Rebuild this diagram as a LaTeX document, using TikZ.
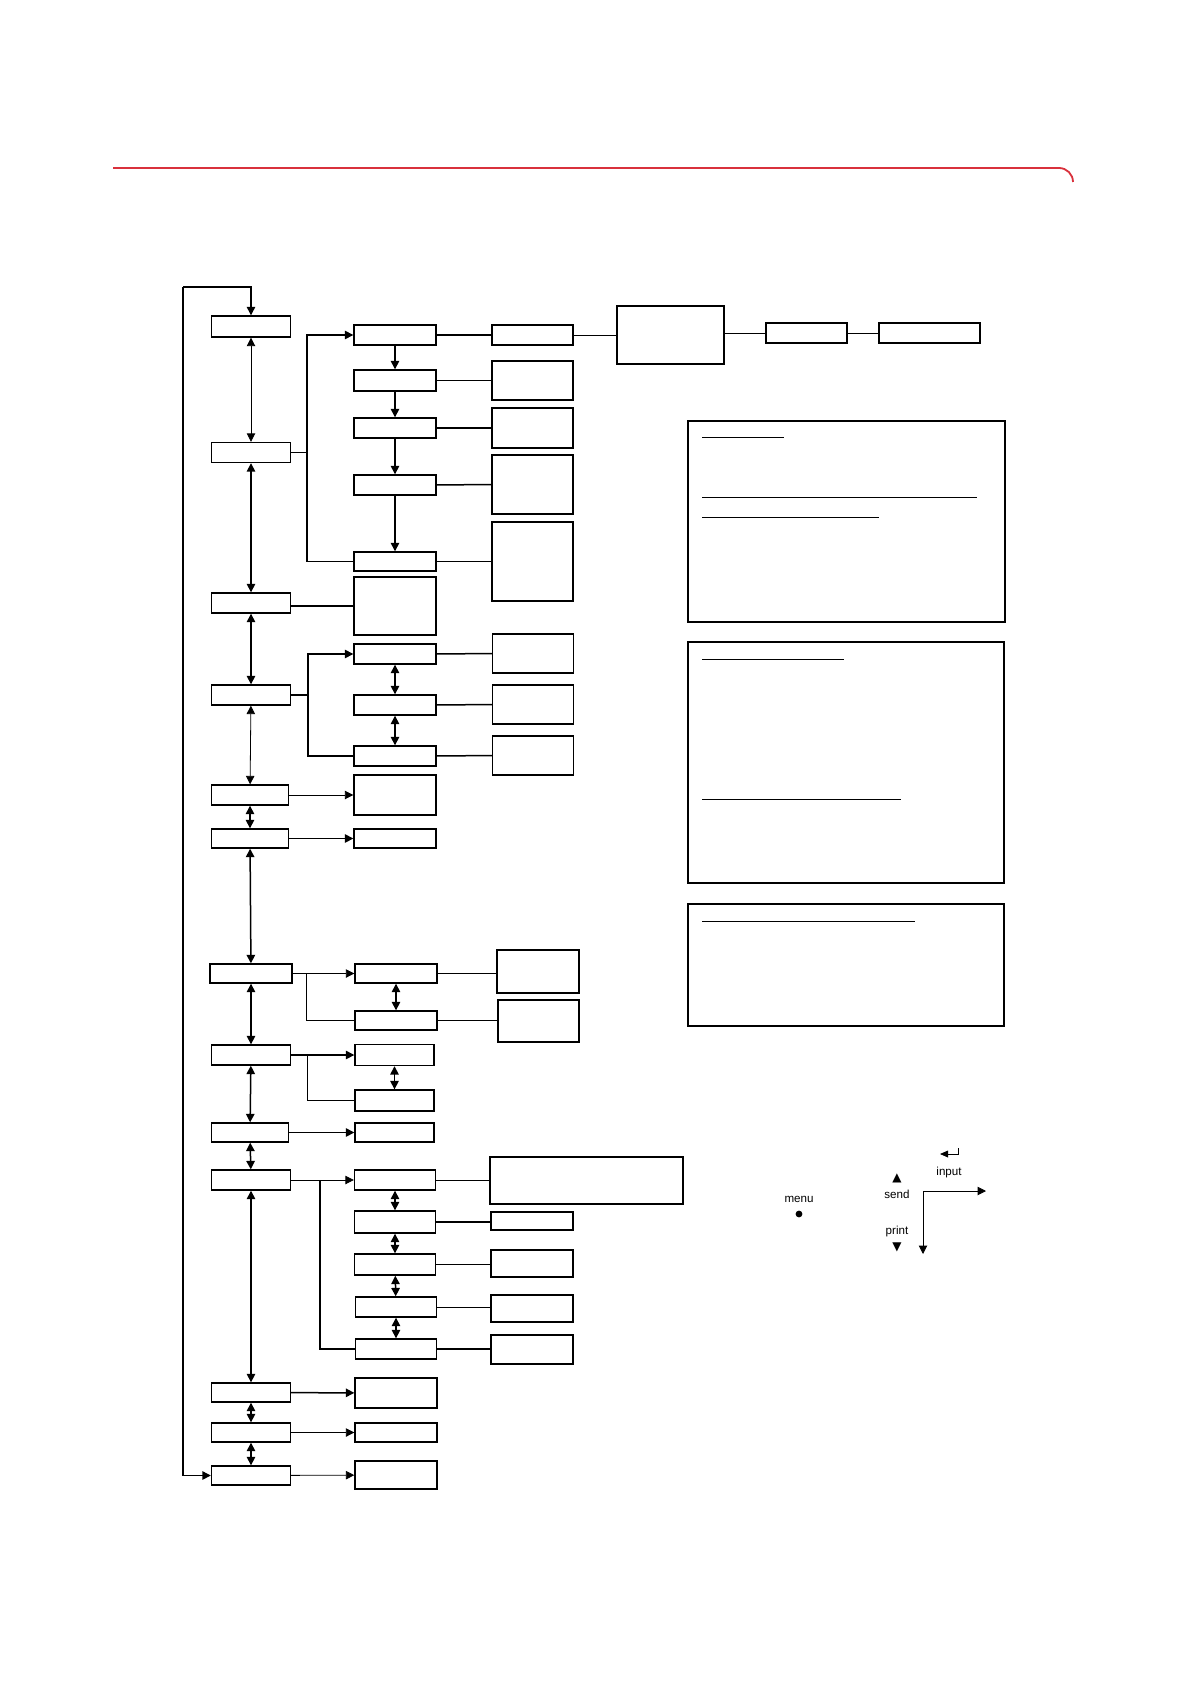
\documentclass[tikz,border=0pt]{standalone}
\usepackage{fontspec}
\setmainfont{Liberation Sans}
\newfontfamily\symfont{DejaVu Sans}
\usetikzlibrary{arrows.meta, calc}
\definecolor{rulered}{HTML}{D9313C}

\begin{document}
\begin{tikzpicture}[
    x=0.5pt, y=-0.5pt,
    every node/.style={font=\fontsize{5.8pt}{7pt}\selectfont},
    box/.style 2 args={draw, line width=.7pt, inner sep=0pt,
                       minimum width=#1*0.5pt, minimum height=#2*0.5pt},
    note/.style 2 args={draw, line width=.55pt, inner sep=0pt,
                        minimum width=#1*0.5pt, minimum height=#2*0.5pt},
    link/.style={line width=.75pt},
    hair/.style={line width=.4pt},
    >={Triangle[length=4.2pt, width=4.2pt]},
  ]
  \useasboundingbox (0,0) rectangle (1190,1684);

  % header rule
  \draw[rulered, line width=.9pt, rounded corners=7pt]
    (113,168) -- (1073,168) -- (1073,182);

  % main column
  \node[box={79}{21}] (A1)  at (251,326.5)  {};
  \node[box={79}{20}] (A2)  at (251,452.5)  {};
  \node[box={79}{20}] (A3)  at (251,603)    {};
  \node[box={79}{20}] (A4)  at (251,695)    {};
  \node[box={77}{20}] (A5)  at (250,795)    {};
  \node[box={77}{19}] (A6)  at (250,838.5)  {};
  \node[box={82}{19}] (A7)  at (251,973.5)  {};
  \node[box={79}{20}] (A8)  at (251,1055)   {};
  \node[box={77}{19}] (A9)  at (250,1132.5) {};
  \node[box={79}{20}] (A10) at (251,1180)   {};
  \node[box={79}{19}] (A11) at (251,1392.5) {};
  \node[box={79}{19}] (A12) at (251,1432.5) {};
  \node[box={79}{19}] (A13) at (251,1475.5) {};

  % second column
  \node[box={82}{20}] (B1) at (395,335)    {};
  \node[box={82}{21}] (B2) at (395,380.5)  {};
  \node[box={82}{20}] (B3) at (395,428)    {};
  \node[box={82}{20}] (B4) at (395,485)    {};
  \node[box={82}{19}] (B5) at (395,561.5)  {};
  \node[box={82}{58}] (B6) at (395,606)    {};
  \node[box={82}{20}] (F1) at (395,654)    {};
  \node[box={82}{20}] (F2) at (395,705)    {};
  \node[box={82}{20}] (F3) at (395,756)    {};
  \node[box={82}{40}] (H1) at (395,795)    {};
  \node[box={82}{19}] (H2) at (395,838.5)  {};
  \node[box={82}{19}] (J1) at (396,973.5)  {};
  \node[box={82}{19}] (J2) at (396,1020.5) {};
  \node[box={79}{21}] (L1) at (394.5,1055) {};
  \node[box={79}{21}] (L2) at (394.5,1100.5) {};
  \node[box={79}{19}] (M1) at (394.5,1132.5) {};
  \node[box={81}{20}] (P1) at (395,1180)   {};
  \node[box={81}{22}] (P2) at (395,1222)   {};
  \node[box={81}{21}] (P3) at (395,1264.5) {};
  \node[box={81}{20}] (P4) at (396,1307)   {};
  \node[box={81}{20}] (P5) at (396,1349)   {};
  \node[box={82}{30}] (R1) at (396,1393)   {};
  \node[box={82}{19}] (R2) at (396,1432.5) {};
  \node[box={82}{28}] (R3) at (396,1475)   {};

  % third column
  \node[box={81}{20}] (C1) at (532.5,335)   {};
  \node[box={81}{39}] (C2) at (532.5,380.5) {};
  \node[box={81}{40}] (C3) at (532.5,428)   {};
  \node[box={81}{59}] (C4) at (532.5,484.5) {};
  \node[box={81}{79}] (C5) at (532.5,561.5) {};
  \node[box={81}{39}] (G1) at (533,653.5)   {};
  \node[box={81}{39}] (G2) at (533,704.5)   {};
  \node[box={81}{39}] (G3) at (533,755.5)   {};
  \node[box={82}{43}] (K1) at (538,971.5)   {};
  \node[box={81}{42}] (K2) at (538.5,1021)  {};
  \node[box={193}{47}] (Q1) at (586.5,1180.5) {};
  \node[box={82}{18}] (Q2) at (532,1221)    {};
  \node[box={82}{27}] (Q3) at (532,1263.5)  {};
  \node[box={82}{27}] (Q4) at (532,1308.5)  {};
  \node[box={82}{29}] (Q5) at (532,1349.5)  {};

  % top right chain
  \node[box={107}{58}] (D)  at (670.5,335) {};
  \node[box={81}{20}]  (E1) at (806.5,333) {};
  \node[box={101}{20}] (E2) at (929.5,333) {};

  % note panels
  \node[note={317}{201}] (N1) at (846.5,521.5) {};
  \node[note={316}{241}] (N2) at (846,762.5)   {};
  \node[note={316}{122}] (N3) at (846,965)     {};
  \draw[hair] (702,437) -- (784,437);
  \draw[hair] (702,497) -- (977,497);
  \draw[hair] (702,517) -- (879,517);
  \draw[hair] (702,659) -- (844,659);
  \draw[hair] (702,799) -- (901,799);
  \draw[hair] (702,921) -- (915,921);

  % return loop
  \coordinate (loop) at (183,287);
  \draw[->, line width=.6pt] (loop) -| (A1.north);
  \draw[->, line width=.6pt] (loop) |- (A13.west);

  % main column links
  \draw[<->, hair] (A1) -- (A2);
  \draw[<->, link] (A2) -- (A3);
  \draw[<->, link] (A3) -- (A4);
  \draw[<->, hair] (A4) -- (A5);
  \draw[<->, link] (A5) -- (A6);
  \draw[<->, link] (A6) -- (A7);
  \draw[<->, link] (A7) -- (A8);
  \draw[<->, link] (A8) -- (A9);
  \draw[<->, link] (A9) -- (A10);
  \draw[<->, link] (A10) -- (A11);
  \draw[<->, link] (A11) -- (A12);
  \draw[<->, link] (A12) -- (A13);

  % first branch
  \draw[link] (A2.east) -- ++(16,0);
  \draw[->, link] (A2.east) ++(16,0) |- (B1.west);
  \draw[link] (A2.east) ++(16,0) |- (B5.west);
  \draw[->, link] (B1) -- (B2);
  \draw[->, link] (B2) -- (B3);
  \draw[->, link] (B3) -- (B4);
  \draw[->, link] (B4) -- (B5);
  \draw[link] (B1) -- (C1);
  \draw[link] (B2) -- (C2);
  \draw[link] (B3) -- (C3);
  \draw[link] (B4) -- (C4);
  \draw[hair] (B5) -- (C5);
  \draw[hair] (C1) -- (D);
  \draw[hair] (D.east |- E1) -- (E1);
  \draw[hair] (E1) -- (E2);
  \draw[link] (B6.west -| A3.east) -- (B6.west);

  % second branch
  \draw[->, link] (A4.east) -- ++(17,0) |- (F1.west);
  \draw[link] (A4.east) ++(17,0) |- (F3.west);
  \draw[<->, link] (F1) -- (F2);
  \draw[<->, link] (F2) -- (F3);
  \draw[link] (F1) -- (G1);
  \draw[link] (F2) -- (G2);
  \draw[link] (F3) -- (G3);
  \draw[->, hair] (A5) -- (H1);
  \draw[->, link] (A6) -- (H2);

  % third branch
  \draw[->, hair] (A7) -- (J1);
  \draw[link] (A7.east) ++(14,0) |- (J2.west);
  \draw[<->, link] (J1) -- (J2);
  \draw[hair] (J1) -- (J1 -| K1.west);
  \draw[hair] (J2) -- (J2 -| K2.west);

  % fourth branch
  \draw[->, link] (A8) -- (L1);
  \draw[hair] (A8.east) ++(16,0) |- (L2.west);
  \draw[<->, link] (L1) -- (L2);
  \draw[->, link] (A9) -- (M1);

  % fifth branch
  \draw[->, hair] (A10) -- (P1);
  \draw[link] (A10.east) ++(29,0) |- (P5.west);
  \draw[<->, link] (P1) -- (P2);
  \draw[<->, link] (P2) -- (P3);
  \draw[<->, link] (P3) -- (P4);
  \draw[<->, link] (P4) -- (P5);
  \draw[hair] (P1) -- (P1 -| Q1.west);
  \draw[link] (P2) -- (P2 -| Q2.west);
  \draw[link] (P3) -- (P3 -| Q3.west);
  \draw[hair] (P4) -- (P4 -| Q4.west);
  \draw[link] (P5) -- (P5 -| Q5.west);

  % last rows
  \draw[->, link] (A11) -- (R1);
  \draw[->, hair] (A12) -- (R2);
  \draw[->, hair] (A13) -- (R3);

  % key legend
  \node (menu) at (799,1199) {menu};
  \node[circle, fill, inner sep=0pt, minimum size=3.4pt] (dot) at (799,1214) {};
  \node (up)    at (897,1178) {\symfont\fontsize{6pt}{6pt}\selectfont ▲};
  \node (send)  at (897,1194) {send};
  \node (print) at (897,1231) {print};
  \node (down)  at (897,1247) {\symfont\fontsize{6pt}{6pt}\selectfont ▼};
  \node (input) at (949,1172) {input};
  \coordinate (ret)    at (958,1148);
  \coordinate (retend) at (940,1154);
  \draw[-{Triangle[length=4pt, width=3.4pt]}, hair] (ret) |- (retend);
  \coordinate (corner) at (923,1191);
  \coordinate (right)  at (986,1191);
  \coordinate (bottom) at (923,1254);
  \draw[->, hair] (corner) -- (right);
  \draw[->, hair] (corner) -- (bottom);
\end{tikzpicture}
\end{document}
